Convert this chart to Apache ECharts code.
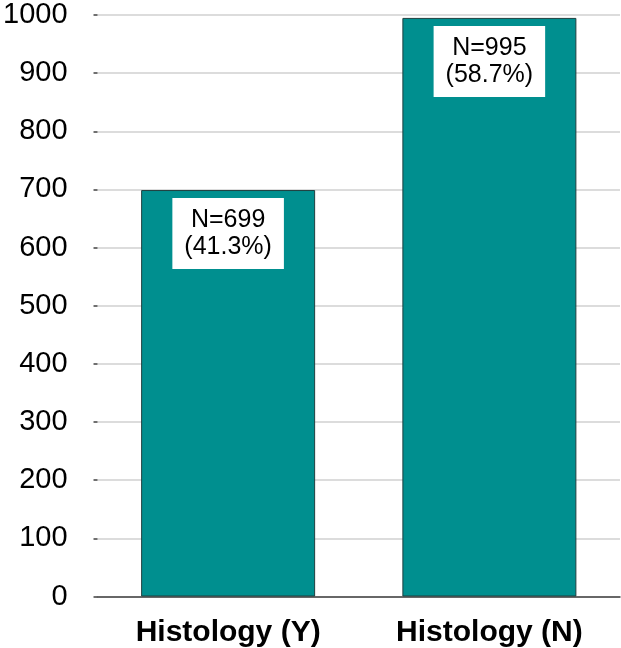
<!DOCTYPE html>
<html>
<head>
<meta charset="utf-8">
<script src="https://cdn.jsdelivr.net/npm/echarts@6/dist/echarts.min.js"></script>
<style>
  html, body { margin: 0; padding: 0; background: #fff; }
  #chart { width: 621px; height: 648px; }
</style>
</head>
<body>
<div id="chart"></div>
<script>
// Patient counts by histology status
const categories = ['Histology (Y)', 'Histology (N)'];
const counts = [699, 995];
const shares = ['41.3%', '58.7%'];
const yTicks = { min: 0, max: 1000, step: 100 };

const FONT = "'Liberation Sans', Arial, Helvetica, sans-serif";

const chart = echarts.init(document.getElementById('chart'), null, { renderer: 'canvas' });

chart.setOption({
  animation: false,
  backgroundColor: '#ffffff',
  grid: { left: 97, right: 1, top: 15, bottom: 51.5, containLabel: false },
  xAxis: {
    type: 'category',
    data: categories,
    axisLine: { show: true, lineStyle: { color: '#404040', width: 1.5 } },
    axisTick: { show: false },
    axisLabel: {
      color: '#000',
      fontFamily: FONT,
      fontSize: 30,
      fontWeight: 'bold',
      margin: 21
    }
  },
  yAxis: {
    type: 'value',
    min: yTicks.min,
    max: yTicks.max,
    interval: yTicks.step,
    axisLine: { show: false },
    axisTick: { show: true, length: 4, lineStyle: { color: '#404040', width: 1.5 } },
    splitLine: { show: true, lineStyle: { color: '#d0d0d0', width: 1.5 } },
    axisLabel: {
      color: '#000',
      fontFamily: FONT,
      fontSize: 29,
      margin: 30,
      formatter: (v) => String(v)
    }
  },
  series: [{
    type: 'bar',
    data: counts,
    barWidth: 174,
    itemStyle: { color: '#008f8f', borderColor: '#1f3f3f', borderWidth: 1 },
    label: {
      show: true,
      position: 'insideTop',
      distance: 8,
      formatter: (p) => 'N=' + counts[p.dataIndex] + '\n(' + shares[p.dataIndex] + ')',
      color: '#000',
      fontFamily: FONT,
      fontSize: 25,
      lineHeight: 27,
      align: 'center',
      backgroundColor: '#ffffff',
      padding: [9, 12, 8, 12]
    }
  }]
});
</script>
</body>
</html>
